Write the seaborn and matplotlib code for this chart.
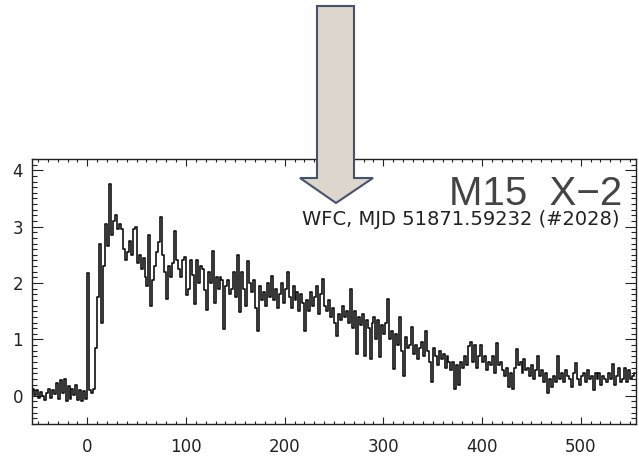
import numpy as np
import pandas as pd
import matplotlib
matplotlib.use("Agg")
import matplotlib.pyplot as plt
from matplotlib.patches import Polygon
from matplotlib.ticker import MultipleLocator
import seaborn as sns

# WFC light curve of the M15 X-2 burst, 2 s bins
bin_width = 2.0
t_start = -56.0

pre_burst = [
    0.12, 0.02, 0.10, -0.04, 0.06, 0.00, -0.08, 0.05, 0.12, -0.03,
    0.10, 0.03, 0.22, -0.06, 0.28, 0.05, 0.30, -0.10, 0.18, -0.05,
    0.12, 0.02, 0.20, -0.08, 0.10, -0.10, 0.08, -0.06,
]

burst = [
    2.18, 0.10, 0.05, 0.12, 0.85, 1.75, 2.70, 1.30, 2.30, 3.05,
    2.65, 3.75, 2.85, 3.10, 3.20, 2.95, 3.05, 2.95, 2.60, 2.40,
    2.55, 2.75, 2.50, 2.95, 3.00, 2.35, 2.50, 2.25, 2.45, 2.10,
    1.95, 2.85, 1.60, 2.05, 2.30, 2.55, 2.72, 3.17, 2.50, 2.20,
    1.72, 2.30, 2.10, 2.35, 2.92, 2.40, 2.25, 2.10, 2.40, 2.47,
    1.78, 1.90, 2.40, 2.15, 1.62, 2.40, 2.00, 2.30, 2.25, 1.88,
    1.53, 2.20, 2.00, 2.57, 1.65, 2.10, 1.90, 2.10, 2.05, 1.18,
    1.95, 2.05, 1.80, 1.90, 2.20, 1.75, 2.50, 1.48, 2.20, 1.90,
    1.60, 2.39, 2.00, 1.85, 2.05, 1.55, 1.15, 1.95, 1.70, 1.85,
    1.60, 2.00, 1.75, 2.12, 1.70, 1.90, 1.55, 1.80, 2.00, 1.65,
    1.90, 2.20, 1.75, 1.55, 1.95, 1.70, 1.85, 1.50, 1.80, 1.65,
    1.15, 1.70, 1.50, 1.85, 1.60, 1.75, 1.95, 1.45, 1.80, 2.07,
    1.60, 1.50, 1.70, 1.40, 1.55, 1.30, 1.06, 1.45, 1.35, 1.60,
    1.40, 1.50, 1.30, 1.89, 1.20, 1.50, 0.75, 1.40, 1.25, 1.45,
    0.70, 1.35, 1.20, 0.65, 1.30, 1.40, 1.00, 1.35, 0.68, 1.25,
    1.10, 1.30, 1.72, 1.00, 1.15, 0.48, 1.10, 0.90, 1.39, 0.80,
    0.35, 1.05, 0.85, 0.90, 1.22, 0.75, 0.90, 0.65, 0.85, 0.95,
    0.70, 1.15, 0.80, 0.60, 0.25, 0.85, 0.70, 0.55, 0.80, 0.65,
    0.75, 0.50, 0.70, 0.60, 0.45, 0.60, 0.12, 0.55, 0.20, 0.60,
    0.50, 0.70, 0.55, 0.88, 0.95, 0.60, 0.90, 0.50, 0.70, 0.90,
    0.60, 0.70, 0.45, 0.60, 0.55, 0.70, 0.40, 0.93, 0.55, 0.60,
    0.45, 0.35, 0.50, 0.15, 0.40, 0.12, 0.50, 0.83, 0.55, 0.60,
    0.40, 0.65, 0.45, 0.50, 0.35, 0.55, 0.30, 0.45, 0.70, 0.35,
    0.45, 0.25, 0.40, 0.05, 0.30, 0.15, 0.35, 0.25, 0.70, 0.30,
    0.40, 0.25, 0.45, 0.35, 0.30, 0.15, 0.40, 0.58, 0.30, 0.20,
    0.35, 0.40, 0.25, 0.45, 0.30, 0.35, 0.10, 0.40, 0.30, 0.40,
    0.20, 0.35, 0.30, 0.25, 0.40, 0.30, 0.57, 0.20, 0.35, 0.50,
    0.25, 0.30, 0.50, 0.25, 0.45, 0.30, 0.35, 0.40,
]

x_ticks = [0, 100, 200, 300, 400, 500]
y_ticks = [0, 1, 2, 3, 4]
title_text = "M15  X\u22122"
subtitle_text = "WFC, MJD 51871.59232 (#2028)"

rate = np.array(pre_burst + burst)
t_mid = t_start + bin_width * (np.arange(rate.size) + 0.5)
df = pd.DataFrame({"t": t_mid, "rate": rate})

sns.set_style("ticks")
plt.rcParams["font.family"] = ["DejaVu Sans"]

W, H = 639, 457
fig = plt.figure(figsize=(W / 100, H / 100), dpi=100)
ax = fig.add_axes([32 / W, 33 / H, (636 - 32) / W, (424 - 159) / H])

sns.lineplot(data=df, x="t", y="rate", ax=ax, drawstyle="steps-mid",
             color="#111111", linewidth=1.2, estimator=None)

ax.set_xlim(-56, 556)
ax.set_ylim(-0.5, 4.2)
ax.set_xticks(x_ticks)
ax.set_yticks(y_ticks)
ax.xaxis.set_minor_locator(MultipleLocator(10))
ax.yaxis.set_minor_locator(MultipleLocator(0.1))
ax.set_xlabel("")
ax.set_ylabel("")

for side in ["top", "right", "bottom", "left"]:
    ax.spines[side].set_visible(True)
    ax.spines[side].set_linewidth(1.0)
    ax.spines[side].set_color("#222222")

ax.tick_params(which="both", direction="in", top=True, right=True,
               color="#222222", width=0.8, labelcolor="#222222")
ax.tick_params(axis="x", which="major", length=5, pad=10, labelsize=12)
ax.tick_params(axis="x", which="minor", length=2.5)
ax.tick_params(axis="y", which="major", length=8, pad=6.5, labelsize=12)
ax.tick_params(axis="y", which="minor", length=3.5)

ax.text((622 - 32) / 604, (424 - 205) / 265, title_text, transform=ax.transAxes,
        ha="right", va="baseline", fontsize=29, color="#444444",
        family=["Liberation Sans", "DejaVu Sans"])
ax.text((620 - 32) / 604, (424 - 225) / 265, subtitle_text, transform=ax.transAxes,
        ha="right", va="baseline", fontsize=14, color="#222222")

# downward arrow pointing at the burst label
arrow_px = [(317, 6), (354, 6), (354, 178), (373, 178), (336, 203),
            (300, 178), (317, 178)]
arrow_fig = [(x / W, (H - y) / H) for x, y in arrow_px]
fig.add_artist(Polygon(arrow_fig, closed=True, transform=fig.transFigure,
                       facecolor="#DCD6CC", edgecolor="#44546A",
                       linewidth=1.5, zorder=5))

fig.savefig("out.png", dpi=100, facecolor="white")
